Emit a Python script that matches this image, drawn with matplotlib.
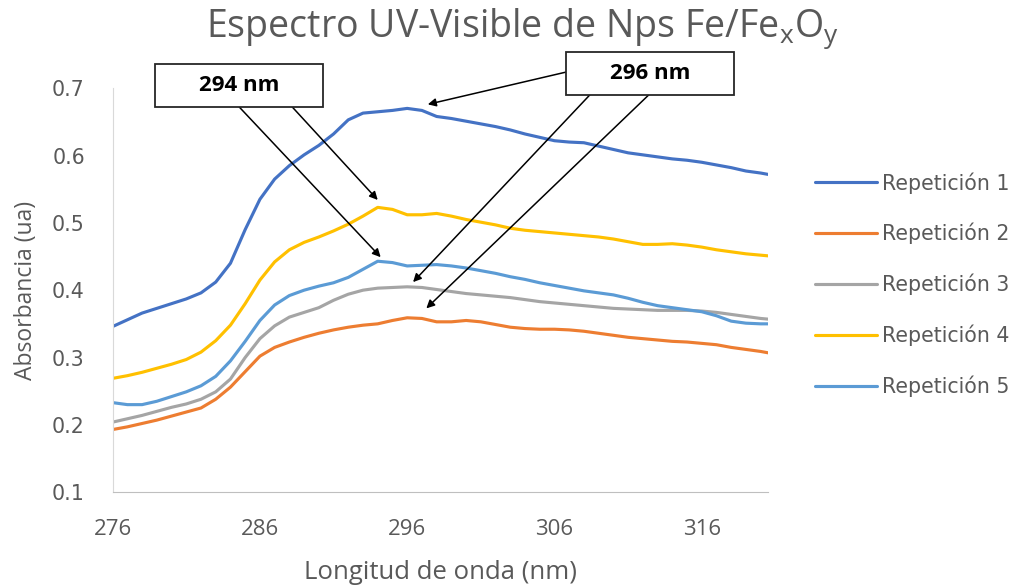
import matplotlib
matplotlib.use("Agg")
import matplotlib.pyplot as plt
from matplotlib.patches import Rectangle

plt.rcParams['font.family'] = ['Open Sans', 'DejaVu Sans']
plt.rcParams['mathtext.fontset'] = 'custom'
plt.rcParams['mathtext.rm'] = 'Open Sans'

# longitud de onda (nm)
wavelengths = list(range(276, 321)) + [320.5]

rep1 = [0.346, 0.356, 0.366, 0.373, 0.380, 0.387, 0.396, 0.412, 0.440, 0.490,
        0.535, 0.565, 0.585, 0.601, 0.615, 0.632, 0.653, 0.663, 0.665, 0.667,
        0.670, 0.667, 0.658, 0.655, 0.651, 0.647, 0.643, 0.638, 0.632, 0.627,
        0.622, 0.620, 0.619, 0.614, 0.609, 0.604, 0.601, 0.598, 0.595, 0.593,
        0.590, 0.586, 0.582, 0.577, 0.574, 0.572]
rep2 = [0.193, 0.197, 0.202, 0.207, 0.213, 0.219, 0.225, 0.238, 0.256, 0.279,
        0.302, 0.315, 0.323, 0.330, 0.336, 0.341, 0.345, 0.348, 0.350, 0.355,
        0.359, 0.358, 0.353, 0.353, 0.355, 0.353, 0.349, 0.345, 0.343, 0.342,
        0.342, 0.341, 0.339, 0.336, 0.333, 0.330, 0.328, 0.326, 0.324, 0.323,
        0.321, 0.319, 0.315, 0.312, 0.309, 0.307]
rep3 = [0.204, 0.209, 0.214, 0.220, 0.226, 0.231, 0.238, 0.249, 0.268, 0.300,
        0.328, 0.347, 0.360, 0.367, 0.374, 0.385, 0.394, 0.400, 0.403, 0.404,
        0.405, 0.404, 0.401, 0.398, 0.395, 0.393, 0.391, 0.389, 0.386, 0.383,
        0.381, 0.379, 0.377, 0.375, 0.373, 0.372, 0.371, 0.370, 0.370, 0.370,
        0.369, 0.367, 0.364, 0.361, 0.358, 0.357]
rep4 = [0.269, 0.273, 0.278, 0.284, 0.290, 0.297, 0.308, 0.325, 0.348, 0.380,
        0.415, 0.442, 0.460, 0.471, 0.479, 0.488, 0.498, 0.510, 0.523, 0.520,
        0.512, 0.512, 0.514, 0.510, 0.505, 0.501, 0.497, 0.492, 0.489, 0.487,
        0.485, 0.483, 0.481, 0.479, 0.476, 0.472, 0.468, 0.468, 0.469, 0.467,
        0.464, 0.460, 0.457, 0.454, 0.452, 0.451]
rep5 = [0.233, 0.230, 0.230, 0.235, 0.242, 0.249, 0.258, 0.272, 0.295, 0.324,
        0.355, 0.378, 0.392, 0.400, 0.406, 0.411, 0.419, 0.431, 0.443, 0.441,
        0.436, 0.437, 0.438, 0.436, 0.433, 0.429, 0.425, 0.420, 0.416, 0.411,
        0.407, 0.403, 0.399, 0.396, 0.393, 0.388, 0.382, 0.377, 0.374, 0.371,
        0.368, 0.362, 0.354, 0.351, 0.350, 0.350]

series = [rep1, rep2, rep3, rep4, rep5]
labels = ['Repetición 1', 'Repetición 2', 'Repetición 3', 'Repetición 4', 'Repetición 5']
colors = ['#4472C4', '#ED7D31', '#A5A5A5', '#FFC000', '#5B9BD5']

x_ticks = [276, 286, 296, 306, 316]
y_ticks = [0.1, 0.2, 0.3, 0.4, 0.5, 0.6, 0.7]

txt = '#595959'

fig = plt.figure(figsize=(10.24, 5.88), dpi=100)
ax = fig.add_axes([0.110, 0.163, 0.640, 0.687])

for vals, lab, c in zip(series, labels, colors):
    ax.plot(wavelengths, vals, color=c, lw=2.25, label=lab, solid_capstyle='round')

ax.set_xlim(276, 320.5)
ax.set_ylim(0.1, 0.7)
ax.set_xticks(x_ticks)
ax.set_yticks(y_ticks)
ax.set_yticklabels([f'{v:.1f}' for v in y_ticks], family='DejaVu Sans', fontsize=14.8)
ax.tick_params(axis='both', length=0, colors=txt)
ax.tick_params(axis='x', pad=19, labelsize=16)
ax.tick_params(axis='y', pad=20)

for s in ['top', 'right']:
    ax.spines[s].set_visible(False)
ax.spines['left'].set_color('#D9D9D9')
ax.spines['bottom'].set_color('#BFBFBF')

ax.set_xlabel('Longitud de onda (nm)', fontsize=18.5, color=txt, labelpad=15)
ax.set_ylabel('Absorbancia (ua)', fontsize=16.5, color=txt, labelpad=10)

fig.text(0.510, 0.951, r'Espectro UV-Visible de Nps Fe/Fe$_\mathregular{x}$O$_\mathregular{y}$',
         ha='center', va='center', fontsize=27, color=txt)

# cuadros de anotacion
boxes = [(278.9, 0.672, '294 nm'), (306.8, 0.690, '296 nm')]
for bx, by, t in boxes:
    ax.add_patch(Rectangle((bx, by), 11.36, 0.064, fill=True, facecolor='white',
                           edgecolor='#262626', lw=1.3, clip_on=False, zorder=5))
    ax.text(bx + 5.68, by + 0.032, t, ha='center', va='center', fontsize=16,
            fontweight='bold', color='black', zorder=6, clip_on=False)

arrows = [
    ((306.8, 0.724), (297.4, 0.676)),
    ((288.2, 0.672), (294.0, 0.534)),
    ((284.6, 0.672), (294.2, 0.449)),
    ((308.4, 0.690), (296.4, 0.412)),
    ((312.4, 0.690), (297.3, 0.373)),
]
for tail, head in arrows:
    ax.annotate('', xy=head, xytext=tail, annotation_clip=False,
                arrowprops=dict(arrowstyle='-|>', color='black', lw=1.1,
                                mutation_scale=12, shrinkA=0, shrinkB=0))

leg = fig.legend(loc='center left', bbox_to_anchor=(0.778, 0.516), frameon=False,
                 prop={'family': 'DejaVu Sans', 'size': 14.8},
                 handlelength=3.0, handletextpad=0.25, labelspacing=1.43)
for t in leg.get_texts():
    t.set_color(txt)

fig.savefig('out.png', dpi=100)
